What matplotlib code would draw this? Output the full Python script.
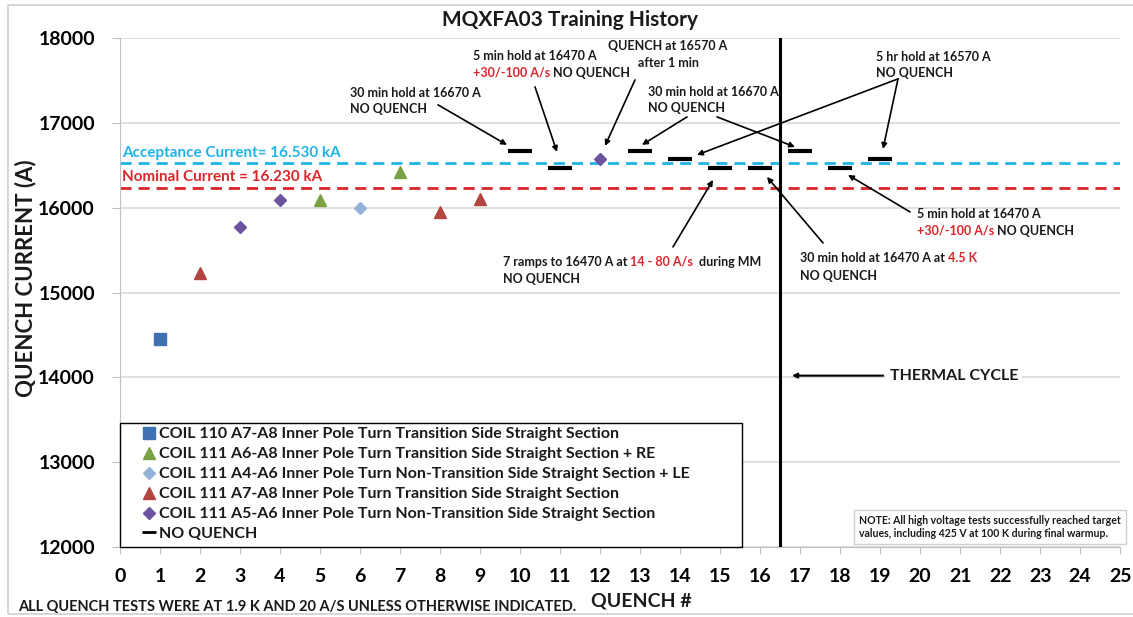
import matplotlib
matplotlib.use("Agg")
import matplotlib.pyplot as plt
from matplotlib.lines import Line2D
from matplotlib.patches import Rectangle

plt.rcParams['font.family'] = ['Lato', 'DejaVu Sans']

# Quench data by coil / location
coil110_a7a8_x = [1]
coil110_a7a8_y = [14450]
coil111_a6a8_re_x = [5, 7]
coil111_a6a8_re_y = [16090, 16425]
coil111_a4a6_le_x = [6]
coil111_a4a6_le_y = [15995]
coil111_a7a8_x = [2, 8, 9]
coil111_a7a8_y = [15235, 15950, 16100]
coil111_a5a6_x = [3, 4, 12]
coil111_a5a6_y = [15775, 16095, 16570]
no_quench_x = [10, 11, 13, 14, 15, 16, 17, 18, 19]
no_quench_y = [16670, 16470, 16670, 16570, 16470, 16470, 16670, 16470, 16570]

acceptance_current = 16530
nominal_current = 16230
thermal_cycle_at = 16.5

legend_labels = [
    "COIL 110 A7-A8 Inner Pole Turn Transition Side Straight Section",
    "COIL 111 A6-A8 Inner Pole Turn Transition Side Straight Section + RE",
    "COIL 111 A4-A6 Inner Pole Turn Non-Transition Side Straight Section + LE",
    "COIL 111 A7-A8 Inner Pole Turn Transition Side Straight Section",
    "COIL 111 A5-A6 Inner Pole Turn Non-Transition Side Straight Section",
    "NO QUENCH",
]

W, H = 1133, 617
fig = plt.figure(figsize=(W / 100, H / 100), dpi=100)
fig.patch.set_facecolor("white")
# thin grey frame around the whole chart area
fig.patches.append(Rectangle((8 / W, 3 / H), 1.2, 1 - 8 / H, transform=fig.transFigure,
                             fill=False, edgecolor="#d0d0d0", lw=1.2))

ax = fig.add_axes([120 / W, 1 - 547 / H, 1000 / W, 509 / H])
ax.set_xlim(0, 25)
ax.set_ylim(12000, 18000)
ax.set_xticks(range(0, 26))
ax.set_yticks(range(12000, 18001, 1000))
ax.yaxis.grid(True, color="#d6d6d6", lw=1.1)
ax.set_axisbelow(True)
for s in ["top", "right"]:
    ax.spines[s].set_visible(False)
ax.spines["left"].set_color("#c0c0c0")
ax.spines["bottom"].set_color("#c0c0c0")
ax.tick_params(axis="x", length=5, color="#c0c0c0", pad=10, labelsize=14)
ax.tick_params(axis="y", length=6, color="#c0c0c0", pad=12, labelsize=14)
for lab in ax.get_xticklabels() + ax.get_yticklabels():
    lab.set_fontweight("bold")

# reference current levels
ax.axhline(acceptance_current, color="#1fb3ea", lw=2, ls=(0, (4, 2.5)), zorder=2)
ax.axhline(nominal_current, color="#d9262b", lw=2, ls=(0, (4, 2.5)), zorder=2)
ax.text(0.05, 16650, "Acceptance Current= 16.530 kA", color="#1fb3ea", fontsize=11,
        fontweight="bold", va="center", ha="left")
ax.text(0.05, 16362, "Nominal Current = 16.230 kA", color="#d9262b", fontsize=11,
        fontweight="bold", va="center", ha="left")

# thermal cycle divider
ax.axvline(thermal_cycle_at, color="black", lw=2.2, zorder=3)

# data series
ms = 8
ax.plot(coil110_a7a8_x, coil110_a7a8_y, ls="none", marker="s", ms=ms, color="#3f70b2", zorder=4)
ax.plot(coil111_a6a8_re_x, coil111_a6a8_re_y, ls="none", marker="^", ms=ms + 1, color="#7aa244", zorder=4)
ax.plot(coil111_a4a6_le_x, coil111_a4a6_le_y, ls="none", marker="D", ms=ms - 1.5, color="#94b1d8", zorder=4)
ax.plot(coil111_a7a8_x, coil111_a7a8_y, ls="none", marker="^", ms=ms + 1, color="#b3443f", zorder=4)
ax.plot(coil111_a5a6_x, coil111_a5a6_y, ls="none", marker="D", ms=ms - 1.5, color="#6d52a0", zorder=4)
ax.plot(no_quench_x, no_quench_y, ls="none", marker="_", ms=17, mew=3, color="black", zorder=4)

# legend frame (drawn inside the axes so the legend sits on top of it)
ax.add_patch(Rectangle((120 / W, 1 - 547 / H), 622 / W, 124 / H, transform=fig.transFigure,
                       facecolor="white", edgecolor="black", lw=1.0, zorder=5, clip_on=False))

leg_handles = [
    Line2D([], [], ls="none", marker="s", ms=8, color="#3f70b2"),
    Line2D([], [], ls="none", marker="^", ms=9, color="#7aa244"),
    Line2D([], [], ls="none", marker="D", ms=6.5, color="#94b1d8"),
    Line2D([], [], ls="none", marker="^", ms=9, color="#b3443f"),
    Line2D([], [], ls="none", marker="D", ms=6.5, color="#6d52a0"),
    Line2D([], [], ls="none", marker="_", ms=10, mew=2, color="black"),
]
leg = ax.legend(leg_handles, legend_labels, loc="upper left",
                bbox_to_anchor=(141 / W, 1 - 424 / H), bbox_transform=fig.transFigure,
                borderaxespad=0, frameon=False,
                prop={"size": 11.5, "weight": "bold"}, handlelength=0.6, handletextpad=0.35,
                labelspacing=0.36, borderpad=0.2)
for t in leg.get_texts():
    t.set_color("#1a1a1a")
leg.set_zorder(6)

fs = 9
arrow_kw = dict(arrowstyle="-|>", color="black", lw=1.2, mutation_scale=8, shrinkA=0, shrinkB=0)


def note(x, y, text, weight="bold", color="#1a1a1a", ha="left"):
    return ax.text(x, y, text, fontsize=fs, fontweight=weight, color=color, ha=ha, va="center")


def mixed(x, y, red_part, black_part):
    r = ax.text(x, y, red_part, fontsize=fs, fontweight="bold", color="#d9262b", ha="left", va="center")
    ax.annotate(black_part, xy=(1, 0.5), xycoords=r, va="center", ha="left",
                fontsize=fs, fontweight="bold", color="#1a1a1a")


def arrow(tail, head):
    ax.annotate("", xy=head, xytext=tail, arrowprops=arrow_kw)


# notes before the thermal cycle
note(5.75, 17353, "30 min hold at 16670 A")
note(5.75, 17164, "NO QUENCH")
arrow((7.95, 17212), (9.675, 16740))

note(8.825, 17789, "5 min hold at 16470 A")
mixed(8.825, 17589, "+30/-100 A/s", " NO QUENCH")
arrow((10.375, 17424), (10.925, 16657))

note(13.7, 17907, "QUENCH at 16570 A", ha="center")
note(13.7, 17706, "after 1 min", ha="center")
arrow((12.875, 17506), (12.125, 16728))

note(13.2, 17365, "30 min hold at 16670 A")
note(13.2, 17176, "NO QUENCH")
arrow((14.175, 17070), (13.05, 16740))
arrow((14.925, 17070), (16.875, 16716))

note(18.9, 17777, "5 hr hold at 16570 A")
note(18.9, 17589, "NO QUENCH")
arrow((19.45, 17518), (14.425, 16622))
arrow((19.45, 17518), (19.075, 16692))

note(19.925, 15926, "5 min hold at 16470 A")
mixed(19.925, 15726, "+30/-100 A/s", " NO QUENCH")
arrow((19.75, 15950), (18.2, 16386))

t7 = note(9.575, 15360, "7 ramps to 16470 A at ")
r7 = ax.annotate("14 - 80 A/s", xy=(1, 0.5), xycoords=t7, va="center", ha="left",
                 fontsize=fs, fontweight="bold", color="#d9262b")
ax.annotate("  during MM", xy=(1, 0.5), xycoords=r7, va="center", ha="left",
            fontsize=fs, fontweight="bold", color="#1a1a1a")
note(9.575, 15160, "NO QUENCH")
arrow((13.825, 15537), (14.825, 16327))

t8 = note(17.0, 15407, "30 min hold at 16470 A at ")
ax.annotate("4.5 K", xy=(1, 0.5), xycoords=t8, va="center", ha="left",
            fontsize=fs, fontweight="bold", color="#d9262b")
note(17.0, 15195, "NO QUENCH")
arrow((17.575, 15584), (16.175, 16362))

# thermal cycle marker
ax.text(19.25, 14020, "THERMAL CYCLE", fontsize=11.5, fontweight="bold", color="#1a1a1a",
        ha="left", va="center", bbox=dict(facecolor="white", edgecolor="none", pad=2.5), zorder=5)
ax.annotate("", xy=(16.8, 14020), xytext=(19.08, 14020),
            arrowprops=dict(arrowstyle="-|>", color="black", lw=1.5, mutation_scale=7,
                            shrinkA=0, shrinkB=0), zorder=5)

# high voltage note box
fig.text(859 / W, 1 - 527 / H,
         "NOTE: All high voltage tests successfully reached target\n"
         "values, including 425 V at 100 K during final warmup.",
         fontsize=7.6, fontweight="bold", color="#1a1a1a", ha="left", va="center",
         linespacing=1.3,
         bbox=dict(facecolor="white", edgecolor="#cfcfcf", boxstyle="square,pad=0.45"))

# titles
fig.text(570 / W, 1 - 20 / H, "MQXFA03 Training History", fontsize=15, fontweight="bold",
         ha="center", va="center", color="#1a1a1a")
fig.text(26 / W, 1 - 278 / H, "QUENCH CURRENT (A)", fontsize=16, fontweight="bold",
         rotation=90, ha="center", va="center", color="#1a1a1a")
fig.text(641 / W, 1 - 601 / H, "QUENCH #", fontsize=14, fontweight="bold",
         ha="center", va="center", color="#1a1a1a")
fig.text(18 / W, 1 - 607 / H,
         "ALL QUENCH TESTS WERE AT 1.9 K AND 20 A/S UNLESS OTHERWISE INDICATED.",
         fontsize=10.5, fontweight="bold", ha="left", va="center", color="#1a1a1a")

fig.savefig("out.png", dpi=100)
